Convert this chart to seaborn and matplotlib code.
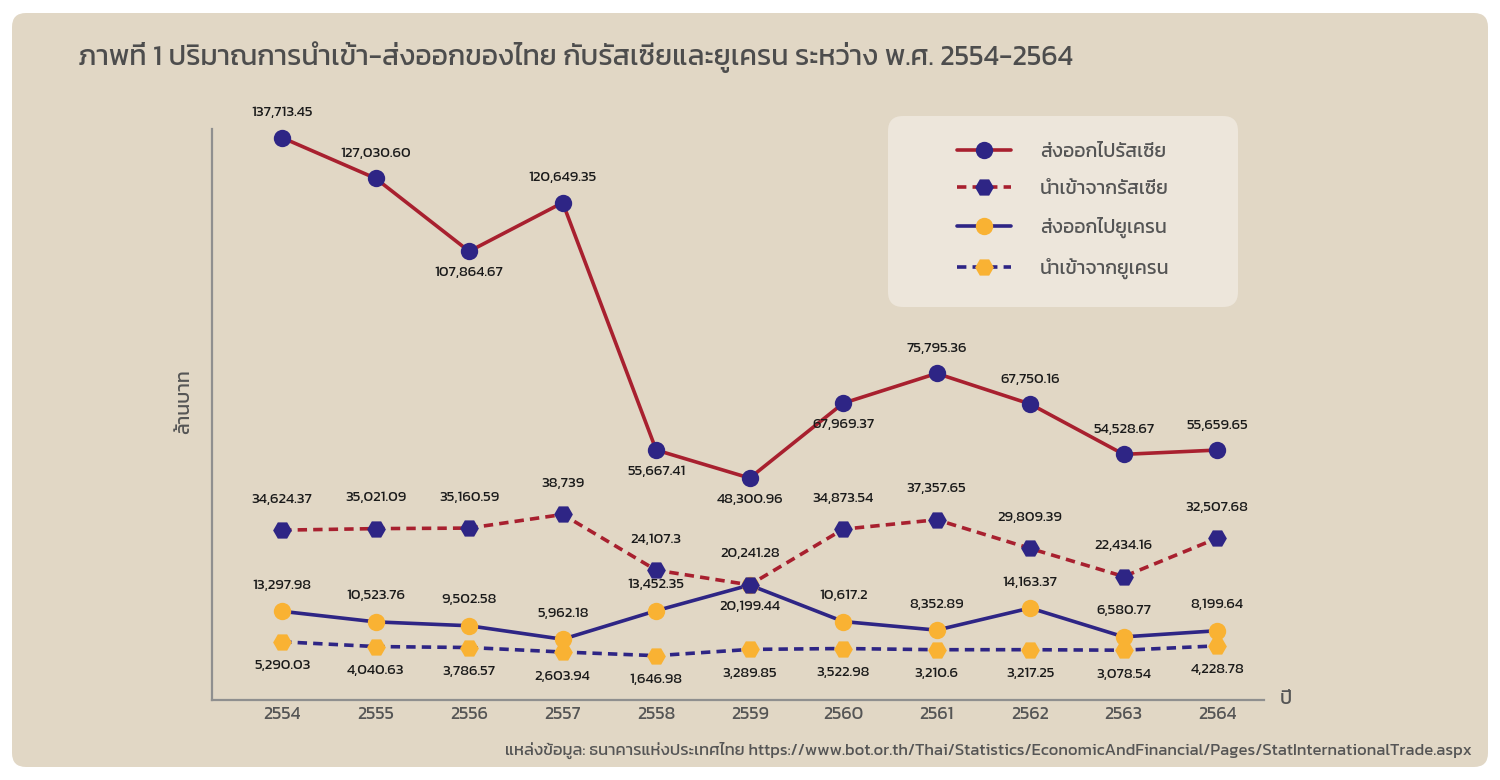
import matplotlib
matplotlib.use("Agg")
import matplotlib.pyplot as plt
from matplotlib import font_manager
from matplotlib.patches import FancyBboxPatch
import pandas as pd
import seaborn as sns

# data (million baht)
years = [2554, 2555, 2556, 2557, 2558, 2559, 2560, 2561, 2562, 2563, 2564]
ru_export = ["137,713.45", "127,030.60", "107,864.67", "120,649.35", "55,667.41", "48,300.96",
             "67,969.37", "75,795.36", "67,750.16", "54,528.67", "55,659.65"]
ru_import = ["34,624.37", "35,021.09", "35,160.59", "38,739", "24,107.3", "20,241.28",
             "34,873.54", "37,357.65", "29,809.39", "22,434.16", "32,507.68"]
ua_export = ["13,297.98", "10,523.76", "9,502.58", "5,962.18", "13,452.35", "20,199.44",
             "10,617.2", "8,352.89", "14,163.37", "6,580.77", "8,199.64"]
ua_import = ["5,290.03", "4,040.63", "3,786.57", "2,603.94", "1,646.98", "3,289.85",
             "3,522.98", "3,210.6", "3,217.25", "3,078.54", "4,228.78"]

series_names = ["ส่งออกไปรัสเซีย", "นำเข้าจากรัสเซีย", "ส่งออกไปยูเครน", "นำเข้าจากยูเครน"]

title = "ภาพที่ 1 ปริมาณการนำเข้า-ส่งออกของไทย กับรัสเซียและยูเครน ระหว่าง พ.ศ. 2554-2564"
source = ("แหล่งข้อมูล: ธนาคารแห่งประเทศไทย "
          "https://www.bot.or.th/Thai/Statistics/EconomicAndFinancial/Pages/StatInternationalTrade.aspx")

RED = "#A8202F"
NAVY = "#2E2585"
GOLD = "#F9B233"
BG = "#E1D7C5"
GREY = "#555555"


def to_num(labels):
    return [float(s.replace(",", "")) for s in labels]


df = pd.DataFrame({
    "year": years,
    "ru_export": to_num(ru_export),
    "ru_import": to_num(ru_import),
    "ua_export": to_num(ua_export),
    "ua_import": to_num(ua_import),
})

sns.set_style("white")
avail = {f.name for f in font_manager.fontManager.ttflist}
thai = next((n for n in ["Kanit", "Prompt", "Mitr", "Sarabun", "Noto Sans Thai"] if n in avail),
            "DejaVu Sans")
plt.rcParams["font.family"] = [thai, "DejaVu Sans"]

fig = plt.figure(figsize=(15, 7.8), dpi=100)
fig.patch.set_facecolor("white")

# rounded beige panel
px = fig.dpi_scale_trans
panel = FancyBboxPatch((0.12, 0.13), 14.76, 7.54,
                       boxstyle="round,pad=0,rounding_size=0.14",
                       transform=px, facecolor=BG, edgecolor="none", zorder=0)
fig.patches.append(panel)

# legend box
legbox = FancyBboxPatch((8.88, 7.8 - 3.07), 3.50, 1.91,
                        boxstyle="round,pad=0,rounding_size=0.15",
                        transform=px, facecolor="#EDE6DB", edgecolor="none", zorder=1)
fig.patches.append(legbox)

ax = fig.add_axes([212 / 1500, 1 - 700 / 780, (1264 - 212) / 1500, (700 - 129) / 780])
ax.set_facecolor("none")
ax.set_zorder(2)

dash = (0, (2.6, 1.7))
specs = [
    ("ru_export", series_names[0], RED, "-", "o", NAVY, 12.5),
    ("ua_export", series_names[2], NAVY, "-", "o", GOLD, 12.5),
    ("ua_import", series_names[3], NAVY, dash, "H", GOLD, 13.5),
    ("ru_import", series_names[1], RED, dash, "H", NAVY, 13.5),
]
for col, name, lc, ls, mk, mc, ms in specs:
    sns.lineplot(data=df, x="year", y=col, ax=ax, color=lc, linewidth=2.6, linestyle=ls,
                 marker=mk, markersize=ms, markerfacecolor=mc, markeredgecolor=mc,
                 markeredgewidth=0, label=name)

# value labels: +1 above, -1 below, offset in px
label_side = {
    "ru_export": ([1, 1, -1, 1, -1, -1, -1, 1, 1, 1, 1], 25, 21),
    "ru_import": ([1] * 11, 31, 21),
    "ua_export": ([1, 1, 1, 1, 1, -1, 1, 1, 1, 1, 1], 26, 21),
    "ua_import": ([-1] * 11, 0, 24),
}
texts = {"ru_export": ru_export, "ru_import": ru_import,
         "ua_export": ua_export, "ua_import": ua_import}
for col, (sides, up, down) in label_side.items():
    for yr, val, txt, s in zip(df["year"], df[col], texts[col], sides):
        off = up if s > 0 else -down
        ax.annotate(txt, (yr, val), xytext=(0, off / 1.389), textcoords="offset points",
                    ha="center", va="center", fontsize=10.7, color="#1a1a1a")

ax.set_xlim(2553.25, 2564.5)
ax.set_ylim(-10000, 140000)
ax.set_xticks(years)
ax.set_xticklabels([str(y) for y in years], fontsize=13, color=GREY)
ax.set_yticks([])
ax.tick_params(axis="x", length=0, pad=4)
ax.set_xlabel("")
ax.set_ylabel("")
for side in ["top", "right"]:
    ax.spines[side].set_visible(False)
for side in ["left", "bottom"]:
    ax.spines[side].set_color("#8F8F8F")
    ax.spines[side].set_linewidth(1.6)

handles, labels = ax.get_legend_handles_labels()
order = [labels.index(n) for n in series_names]
ax.legend([handles[i] for i in order], [labels[i] for i in order],
          loc="upper left", bbox_to_anchor=(957 / 1500, 1 - 143 / 780),
          bbox_transform=fig.transFigure, frameon=False, fontsize=14,
          handlelength=2.8, handletextpad=1.45, labelspacing=1.0, borderpad=0,
          borderaxespad=0, labelcolor=GREY)

fig.text(78 / 1500, 1 - 57 / 780, title, fontsize=20.4, color="#4d4d4d", va="center", ha="left")
fig.text(185 / 1500, 1 - 402 / 780, "ล้านบาท", fontsize=14, color=GREY, rotation=90,
         ha="center", va="center")
fig.text(1286 / 1500, 1 - 700 / 780, "ปี", fontsize=14, color=GREY, ha="center", va="center")
fig.text(1472 / 1500, 1 - 750 / 780, source, fontsize=12, color=GREY, ha="right", va="center")

fig.savefig("out.png", dpi=100, facecolor=fig.get_facecolor())
